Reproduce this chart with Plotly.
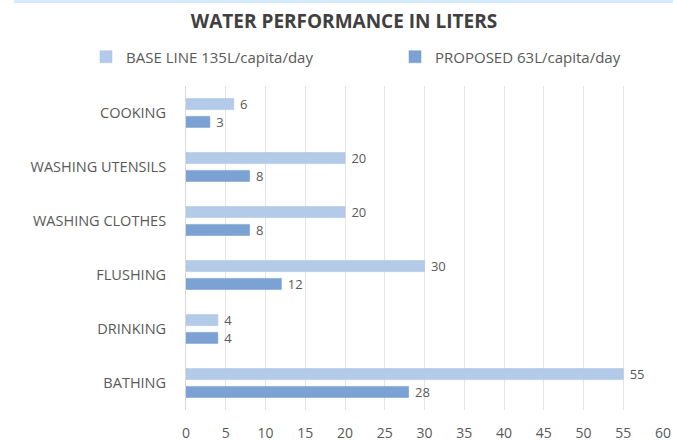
import plotly.graph_objects as go

# Daily water use per activity, litres per person
activities = ["COOKING", "WASHING UTENSILS", "WASHING CLOTHES", "FLUSHING", "DRINKING", "BATHING"]
baseline = [6, 20, 20, 30, 4, 55]
proposed = [3, 8, 8, 12, 4, 28]
series_names = ["BASE LINE 135L/capita/day", "PROPOSED 63L/capita/day"]
x_ticks = list(range(0, 65, 5))

W, H = 673, 444
L, R, T, B = 186, 10, 86, 34
plot_w, plot_h = W - L - R, H - T - B

FONT = "'Open Sans', Lato, sans-serif"
TXT = "#595959"
LABEL_TEMPLATE = "\u00a0%{x}"  # small gap between bar end and its value

fig = go.Figure()
fig.add_trace(go.Bar(
    y=activities, x=baseline, name=series_names[0], orientation="h",
    marker=dict(color="#b3cae9", line=dict(color="#a6c0e4", width=0.5)),
    texttemplate=LABEL_TEMPLATE, textposition="outside", cliponaxis=False,
    constraintext="none", textfont=dict(size=13, color=TXT, family=FONT),
))
fig.add_trace(go.Bar(
    y=activities, x=proposed, name=series_names[1], orientation="h",
    marker=dict(color="#7ba2d3", line=dict(color="#6f98cc", width=0.5)),
    texttemplate=LABEL_TEMPLATE, textposition="outside", cliponaxis=False,
    constraintext="none", textfont=dict(size=13, color=TXT, family=FONT),
))


def px_x(px):
    return (px - L) / plot_w


def px_y(py):
    return (H - B - py) / plot_h


# thin light-blue strip along the top edge
fig.add_shape(type="rect", xref="paper", yref="paper",
              x0=px_x(14), x1=px_x(W + 2), y0=px_y(3), y1=px_y(-2),
              fillcolor="#d3ebfb", line=dict(width=0), layer="above")

fig.update_layout(
    width=W, height=H,
    margin=dict(l=L, r=R, t=T, b=B, autoexpand=False),
    paper_bgcolor="white", plot_bgcolor="white",
    barmode="group", bargap=0.34, bargroupgap=0.38,
    font=dict(family=FONT, size=14, color=TXT),
    title=dict(text="<b>WATER PERFORMANCE IN LITERS</b>",
               x=344 / W, xanchor="center", xref="container",
               y=1 - 21.5 / H, yanchor="middle", yref="container",
               font=dict(size=19, color="#404040", family=FONT)),
    legend=dict(orientation="h", x=px_x(86), xanchor="left",
                y=px_y(57), yanchor="middle",
                entrywidth=264, entrywidthmode="pixels",
                font=dict(size=15, color=TXT, family=FONT),
                bgcolor="rgba(0,0,0,0)"),
    xaxis=dict(range=[0, 60], tickvals=x_ticks, showgrid=True,
               gridcolor="#e4e4e4", gridwidth=1, zeroline=False,
               ticks="outside", ticklen=10, tickcolor="rgba(0,0,0,0)",
               tickfont=dict(size=14, color=TXT), showline=False, fixedrange=True),
    yaxis=dict(categoryorder="array", categoryarray=activities, autorange="reversed",
               showline=True, linecolor="#d9d9d9", linewidth=1,
               ticks="outside", ticklen=16, tickcolor="rgba(0,0,0,0)",
               tickfont=dict(size=14.5, color=TXT), showgrid=False, fixedrange=True),
    showlegend=True,
)

fig.write_html("out.html")
